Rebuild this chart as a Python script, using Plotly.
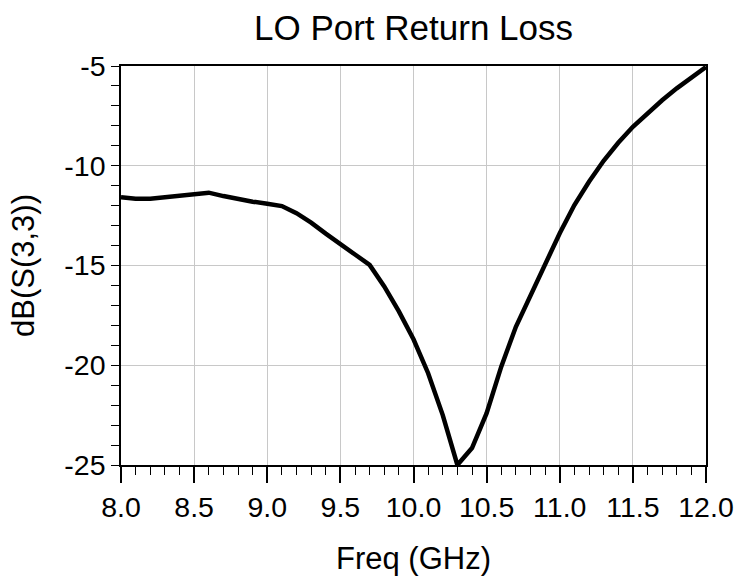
import plotly.graph_objects as go

freq_ghz = [8.0, 8.1, 8.2, 8.3, 8.4, 8.5, 8.6, 8.7, 8.8, 8.9,
            9.0, 9.1, 9.2, 9.3, 9.4, 9.5, 9.6, 9.7, 9.8, 9.9,
            10.0, 10.1, 10.2, 10.3, 10.4, 10.5, 10.6, 10.7, 10.8, 10.9,
            11.0, 11.1, 11.2, 11.3, 11.4, 11.5, 11.6, 11.7, 11.8, 11.9, 12.0]
db_s33 = [-11.58, -11.65, -11.65, -11.58, -11.50, -11.42, -11.35, -11.52, -11.68, -11.80,
          -11.90, -12.02, -12.38, -12.85, -13.40, -13.95, -14.45, -14.97, -16.05, -17.30,
          -18.70, -20.40, -22.50, -25.00, -24.15, -22.40, -20.07, -18.07, -16.48, -14.88,
          -13.38, -11.97, -10.80, -9.75, -8.85, -8.05, -7.35, -6.72, -6.12, -5.58, -5.05]

x_ticks = [8.0, 8.5, 9.0, 9.5, 10.0, 10.5, 11.0, 11.5, 12.0]
y_ticks = [-25, -20, -15, -10, -5]

FONT = "Arial, Liberation Sans, sans-serif"

fig = go.Figure()
fig.add_trace(go.Scatter(x=freq_ghz, y=db_s33, mode="lines",
                         line=dict(color="black", width=4.5), showlegend=False))

fig.update_layout(
    width=738, height=576,
    margin=dict(l=121, r=32, t=66, b=111, autoexpand=False),
    paper_bgcolor="white", plot_bgcolor="white",
    font=dict(family=FONT, color="black", size=28),
    title=dict(text="LO Port Return Loss", x=0.5, xref="paper", xanchor="center",
               y=0.951, yref="container", yanchor="middle",
               font=dict(size=35, family=FONT, color="black")),
)
fig.update_xaxes(
    range=[8.0, 12.0], tickvals=x_ticks, ticktext=[f"{v:.1f}" for v in x_ticks],
    showgrid=True, gridcolor="#c8c8c8", gridwidth=1,
    showline=True, linecolor="black", linewidth=1.5, mirror=True,
    ticks="outside", ticklen=16, tickwidth=1.5, tickcolor="black",
    minor=dict(dtick=0.1, tick0=8.0, ticks="outside", ticklen=8, tickwidth=1, tickcolor="black", showgrid=False),
    tickfont=dict(size=28.5), zeroline=False, automargin=False,
    title=dict(text="Freq (GHz)", font=dict(size=31), standoff=34),
)
fig.update_yaxes(
    range=[-25, -5], tickvals=y_ticks, ticktext=[str(v) for v in y_ticks],
    showgrid=True, gridcolor="#c8c8c8", gridwidth=1,
    showline=True, linecolor="black", linewidth=1.5, mirror=True,
    ticks="outside", ticklen=8, tickwidth=1, tickcolor="black",
    minor=dict(dtick=1, tick0=-25, ticks="outside", ticklen=8, tickwidth=1, tickcolor="black", showgrid=False),
    tickfont=dict(size=28.5), zeroline=False, automargin=False,
    title=dict(text="dB(S(3,3))", font=dict(size=31), standoff=20),
)

fig.write_html("out.html")
